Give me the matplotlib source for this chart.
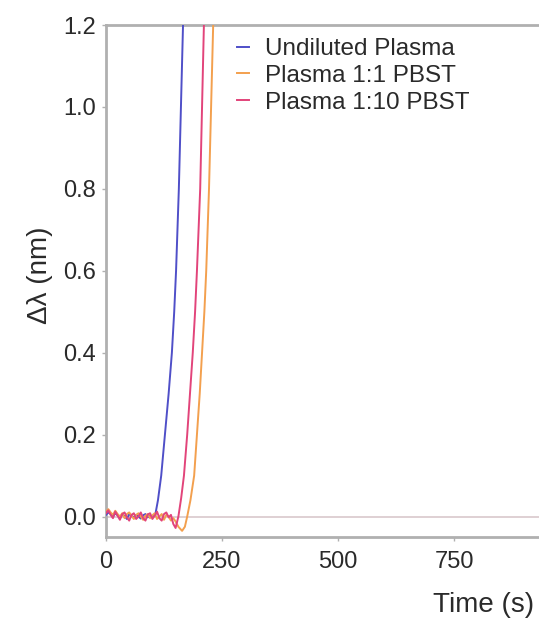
import matplotlib
matplotlib.use("Agg")
import matplotlib.pyplot as plt

plt.rcParams['font.family'] = ['Liberation Sans', 'DejaVu Sans']

# ---- data ----
labels = ["Undiluted Plasma", "Plasma 1:1 PBST", "Plasma 1:10 PBST"]
colors = ["#4f4fc8", "#f3a04e", "#e2447a"]

t_undiluted = [0, 5, 10, 15, 20, 25, 30, 35, 40, 45, 50, 55, 60, 65, 70, 75, 80, 85, 90, 95,
               100, 106, 112, 119, 127, 135, 142, 147, 151, 157, 166, 169]
y_undiluted = [0.004, 0.010, 0.006, 0.000, 0.008, 0.003, -0.004, 0.005, 0.001, -0.006, 0.006,
               0.002, -0.003, 0.004, 0.000, -0.005, 0.003, 0.006, -0.002, 0.002,
               0.000, 0.003, 0.040, 0.100, 0.200, 0.300, 0.400, 0.500, 0.600, 0.800, 1.200, 1.350]

t_1to1 = [0, 5, 10, 15, 20, 25, 30, 35, 40, 45, 50, 55, 60, 65, 70, 75, 80, 85, 90, 95,
          100, 105, 110, 115, 120, 125, 130, 135, 140, 145, 150, 156, 164, 170, 175, 182,
          190, 196, 202, 207, 212, 216, 222, 231, 234]
y_1to1 = [0.012, 0.018, 0.010, 0.004, 0.014, 0.006, 0.000, 0.008, -0.004, 0.006, 0.010,
          0.002, -0.006, 0.004, 0.008, 0.000, -0.008, 0.002, 0.006, -0.004,
          0.003, 0.008, -0.006, 0.000, 0.006, -0.008, 0.004, 0.000, -0.010, -0.004, -0.012,
          -0.025, -0.035, -0.025, 0.000, 0.040,
          0.100, 0.200, 0.300, 0.400, 0.500, 0.600, 0.800, 1.200, 1.350]

t_1to10 = [0, 5, 10, 15, 20, 25, 30, 35, 40, 45, 50, 55, 60, 65, 70, 75, 80, 85, 90, 95,
           100, 105, 110, 115, 120, 125, 130, 135, 140, 145, 150, 153, 156, 162, 168, 175,
           181, 187, 192, 196, 203, 211, 214]
y_1to10 = [0.008, 0.015, 0.004, -0.004, 0.012, 0.002, -0.008, 0.006, 0.010, -0.002, -0.010,
           0.004, 0.008, -0.006, 0.000, 0.010, -0.004, -0.010, 0.005, 0.008,
           -0.006, 0.002, 0.012, -0.004, -0.010, 0.006, 0.010, -0.002, 0.004, -0.018, -0.028,
           -0.014, 0.000, 0.045, 0.100, 0.200, 0.300, 0.400, 0.500, 0.600, 0.800, 1.200, 1.350]

xticks = [0, 250, 500, 750]
yticks = [0.0, 0.2, 0.4, 0.6, 0.8, 1.0, 1.2]

W, H = 539, 629
fig = plt.figure(figsize=(W / 100, H / 100), dpi=100)

x0_px, top_px, bot_px = 106, 25, 537
xmax = 1655
px_per_s = 0.464
ax_w_px = xmax * px_per_s
ax_h_px = bot_px - top_px
ax = fig.add_axes([x0_px / W, (H - bot_px) / H, ax_w_px / W, ax_h_px / H])

ax.axhline(0, color="#dccdd0", lw=1.3, zorder=1)
series = [(t_undiluted, y_undiluted), (t_1to1, y_1to1), (t_1to10, y_1to10)]
for (t, y), c, lab in zip(series, colors, labels):
    ax.plot(t, y, color=c, lw=1.4, label=lab, zorder=3)

ax.set_xlim(0, xmax)
ax.set_ylim(-0.05, 1.2)
ax.set_xticks(xticks)
ax.set_yticks(yticks)
ax.set_yticklabels([f"{v:.1f}" for v in yticks])

for s in ax.spines.values():
    s.set_color("#b0b0b0")
    s.set_linewidth(2.0)

ax.tick_params(axis="both", which="major", length=3, width=1, color="#b0b0b0",
               labelsize=17, labelcolor="#2a2a2a")
ax.tick_params(axis="x", pad=7)
ax.tick_params(axis="y", pad=4)

ax.set_xlabel("Time (s)", fontsize=20, color="#2a2a2a")
ax.xaxis.set_label_coords((484 - x0_px) / ax_w_px, -(605 - bot_px) / ax_h_px)
ax.xaxis.label.set_verticalalignment("center")

ax.set_ylabel("Δλ (nm)", fontsize=20, color="#2a2a2a")
ax.yaxis.set_label_coords((40 - x0_px) / ax_w_px, (bot_px - 275) / ax_h_px)
ax.yaxis.label.set_verticalalignment("center")

leg = ax.legend(loc="upper left", bbox_to_anchor=(237 / W, 1 - 38 / H),
                bbox_transform=fig.transFigure, frameon=False, fontsize=17.5,
                handlelength=0.5, handletextpad=0.65, borderpad=0, borderaxespad=0,
                labelspacing=0.2)
for txt in leg.get_texts():
    txt.set_color("#2a2a2a")

fig.savefig("out.png", dpi=100)
